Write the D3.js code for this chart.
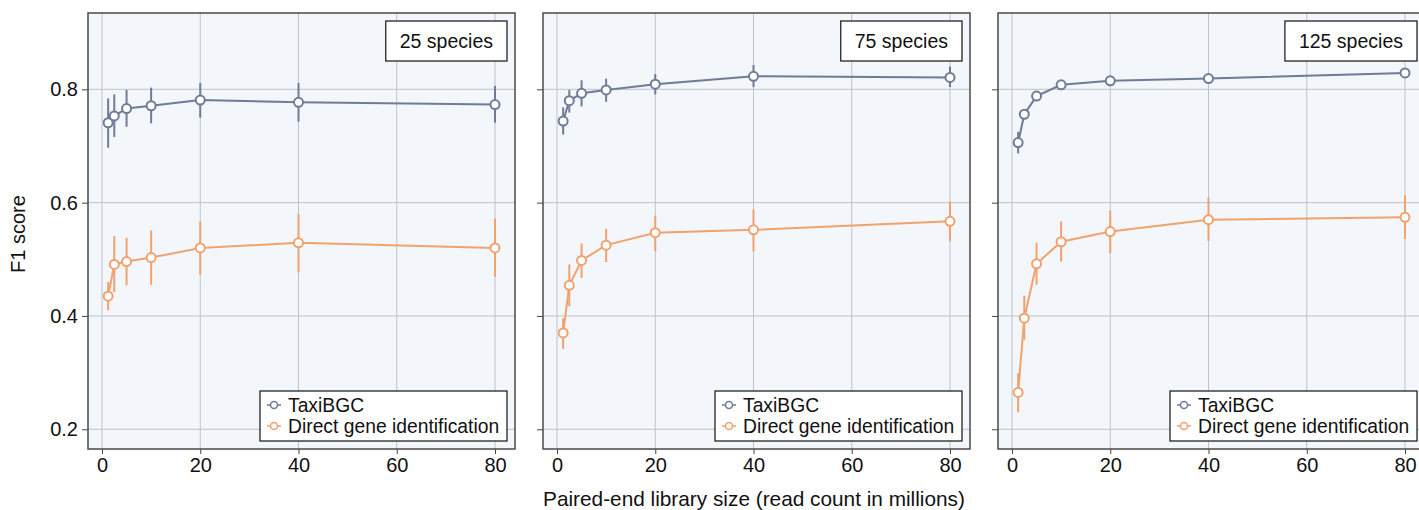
<!DOCTYPE html>
<html>
<head>
<meta charset="utf-8">
<script src="https://cdn.jsdelivr.net/npm/d3@7"></script>
<style>
  body { margin: 0; background: #fff; }
  text { font-family: "Liberation Sans", Arial, sans-serif; fill: #111; }
</style>
</head>
<body>
<svg id="chart" width="1419" height="510"></svg>
<script>
// read counts (millions)
var readCounts = [1.25, 2.5, 5, 10, 20, 40, 80];
var panelTitles = ["25 species", "75 species", "125 species"];
var seriesNames = ["TaxiBGC", "Direct gene identification"];
var xTicks = [0, 20, 40, 60, 80];
var yTicks = [0.2, 0.4, 0.6, 0.8];

// TaxiBGC mean, low, high per panel
var taxiMean = [
  [0.741, 0.753, 0.766, 0.771, 0.781, 0.777, 0.773],
  [0.744, 0.780, 0.793, 0.799, 0.809, 0.823, 0.821],
  [0.706, 0.756, 0.788, 0.808, 0.815, 0.819, 0.829]
];
var taxiLow = [
  [0.697, 0.716, 0.734, 0.740, 0.750, 0.743, 0.741],
  [0.720, 0.759, 0.770, 0.778, 0.791, 0.804, 0.804],
  [0.687, 0.749, 0.783, 0.804, 0.811, 0.815, 0.825]
];
var taxiHigh = [
  [0.784, 0.791, 0.799, 0.803, 0.811, 0.811, 0.806],
  [0.768, 0.799, 0.816, 0.819, 0.827, 0.843, 0.840],
  [0.725, 0.763, 0.793, 0.812, 0.819, 0.823, 0.833]
];

// Direct gene identification mean, low, high per panel
var directMean = [
  [0.435, 0.491, 0.496, 0.503, 0.520, 0.529, 0.520],
  [0.370, 0.454, 0.498, 0.525, 0.547, 0.552, 0.567],
  [0.265, 0.396, 0.492, 0.531, 0.549, 0.570, 0.574]
];
var directLow = [
  [0.410, 0.442, 0.454, 0.455, 0.473, 0.477, 0.469],
  [0.342, 0.417, 0.467, 0.495, 0.514, 0.514, 0.532],
  [0.230, 0.358, 0.455, 0.496, 0.511, 0.532, 0.536]
];
var directHigh = [
  [0.460, 0.541, 0.538, 0.551, 0.566, 0.580, 0.572],
  [0.396, 0.491, 0.528, 0.554, 0.577, 0.588, 0.602],
  [0.299, 0.436, 0.529, 0.567, 0.586, 0.609, 0.613]
];

var colors = ["#6f7b98", "#f0a26f"];

var svg = d3.select("#chart");
var panelW = 427, panelTop = 13, panelBottom = 449, panelGap = 455, firstLeft = 88;
var fontFam = "'Liberation Sans', Arial, sans-serif";

var y = d3.scaleLinear().domain([0.1652, 0.9347]).range([panelBottom, panelTop]);

function drawPanel(p) {
  var left = firstLeft + p * panelGap;
  var x = d3.scaleLinear().domain([-2.85, 84.07]).range([left, left + panelW]);
  var g = svg.append("g").attr("class", "panel");

  g.append("rect")
    .attr("x", left).attr("y", panelTop)
    .attr("width", panelW).attr("height", panelBottom - panelTop)
    .style("fill", "#f3f6fa");

  // grid
  g.selectAll(".vgrid").data(xTicks).enter().append("line")
    .attr("x1", function(d) { return x(d); }).attr("x2", function(d) { return x(d); })
    .attr("y1", panelTop).attr("y2", panelBottom)
    .style("stroke", "#bfc3c9").style("stroke-width", 1);
  g.selectAll(".hgrid").data(yTicks).enter().append("line")
    .attr("x1", left).attr("x2", left + panelW)
    .attr("y1", function(d) { return y(d); }).attr("y2", function(d) { return y(d); })
    .style("stroke", "#bfc3c9").style("stroke-width", 1);

  // axes
  var xAxis = d3.axisBottom(x).tickValues(xTicks).tickSize(5).tickPadding(4);
  var gx = g.append("g").attr("transform", "translate(0," + panelBottom + ")").call(xAxis);
  gx.select(".domain").remove();
  gx.selectAll("line").style("stroke", "#444");
  gx.selectAll("text").style("font-size", "20px").style("fill", "#111")
    .style("font-family", fontFam);

  var yAxis = d3.axisLeft(y).tickValues(yTicks).tickSize(6).tickPadding(4)
    .tickFormat(p == 0 ? d3.format(".1f") : "");
  var gy = g.append("g").attr("transform", "translate(" + left + ",0)").call(yAxis);
  gy.select(".domain").remove();
  gy.selectAll("line").style("stroke", "#444");
  gy.selectAll("text").style("font-size", "20px").style("fill", "#111")
    .style("font-family", fontFam);

  // series
  var series = [
    {mean: taxiMean[p], low: taxiLow[p], high: taxiHigh[p], color: colors[0]},
    {mean: directMean[p], low: directLow[p], high: directHigh[p], color: colors[1]}
  ];
  var line = d3.line()
    .x(function(d, i) { return x(readCounts[i]); })
    .y(function(d) { return y(d); });

  series.forEach(function(s) {
    g.selectAll(null).data(readCounts).enter().append("line")
      .attr("x1", function(d) { return x(d); }).attr("x2", function(d) { return x(d); })
      .attr("y1", function(d, i) { return y(s.low[i]); })
      .attr("y2", function(d, i) { return y(s.high[i]); })
      .style("stroke", s.color).style("stroke-width", 2);
    g.append("path").datum(s.mean).attr("d", line)
      .style("fill", "none").style("stroke", s.color).style("stroke-width", 2);
    g.selectAll(null).data(s.mean).enter().append("circle")
      .attr("cx", function(d, i) { return x(readCounts[i]); })
      .attr("cy", function(d) { return y(d); })
      .attr("r", 4.5)
      .style("fill", "#fff").style("stroke", s.color).style("stroke-width", 2);
  });

  // frame
  g.append("rect")
    .attr("x", left).attr("y", panelTop)
    .attr("width", panelW).attr("height", panelBottom - panelTop)
    .style("fill", "none").style("stroke", "#4a4a4a").style("stroke-width", 1.5);

  // species label box
  var tg = g.append("g");
  var box = tg.append("rect");
  var title = tg.append("text")
    .attr("x", left + panelW - 22).attr("y", 48)
    .attr("text-anchor", "end")
    .style("font-size", "19.5px")
    .text(panelTitles[p]);
  var tw = title.node().getComputedTextLength();
  box.attr("x", left + panelW - 22 - tw - 14).attr("y", 21)
    .attr("width", tw + 28).attr("height", 40)
    .style("fill", "#fff").style("stroke", "#111").style("stroke-width", 1.2);

  // legend
  var lg = g.append("g");
  lg.append("rect")
    .attr("x", left + 172).attr("y", 391)
    .attr("width", 247).attr("height", 50)
    .style("fill", "#fff").style("stroke", "#111").style("stroke-width", 1.2);
  seriesNames.forEach(function(name, k) {
    var cy = 405 + k * 21;
    lg.append("line")
      .attr("x1", left + 179).attr("x2", left + 193)
      .attr("y1", cy).attr("y2", cy)
      .style("stroke", colors[k]).style("stroke-width", 1.5);
    lg.append("circle")
      .attr("cx", left + 186).attr("cy", cy).attr("r", 3.5)
      .style("fill", "#fff").style("stroke", colors[k]).style("stroke-width", 1.5);
    lg.append("text")
      .attr("x", left + 200).attr("y", cy + 7)
      .style("font-size", "19.3px")
      .text(name);
  });
}

[0, 1, 2].forEach(drawPanel);

svg.append("text")
  .attr("transform", "translate(25,234) rotate(-90)")
  .attr("text-anchor", "middle")
  .style("font-size", "20px")
  .text("F1 score");

svg.append("text")
  .attr("x", 754).attr("y", 506)
  .attr("text-anchor", "middle")
  .style("font-size", "20.8px")
  .text("Paired-end library size (read count in millions)");
</script>
</body>
</html>
